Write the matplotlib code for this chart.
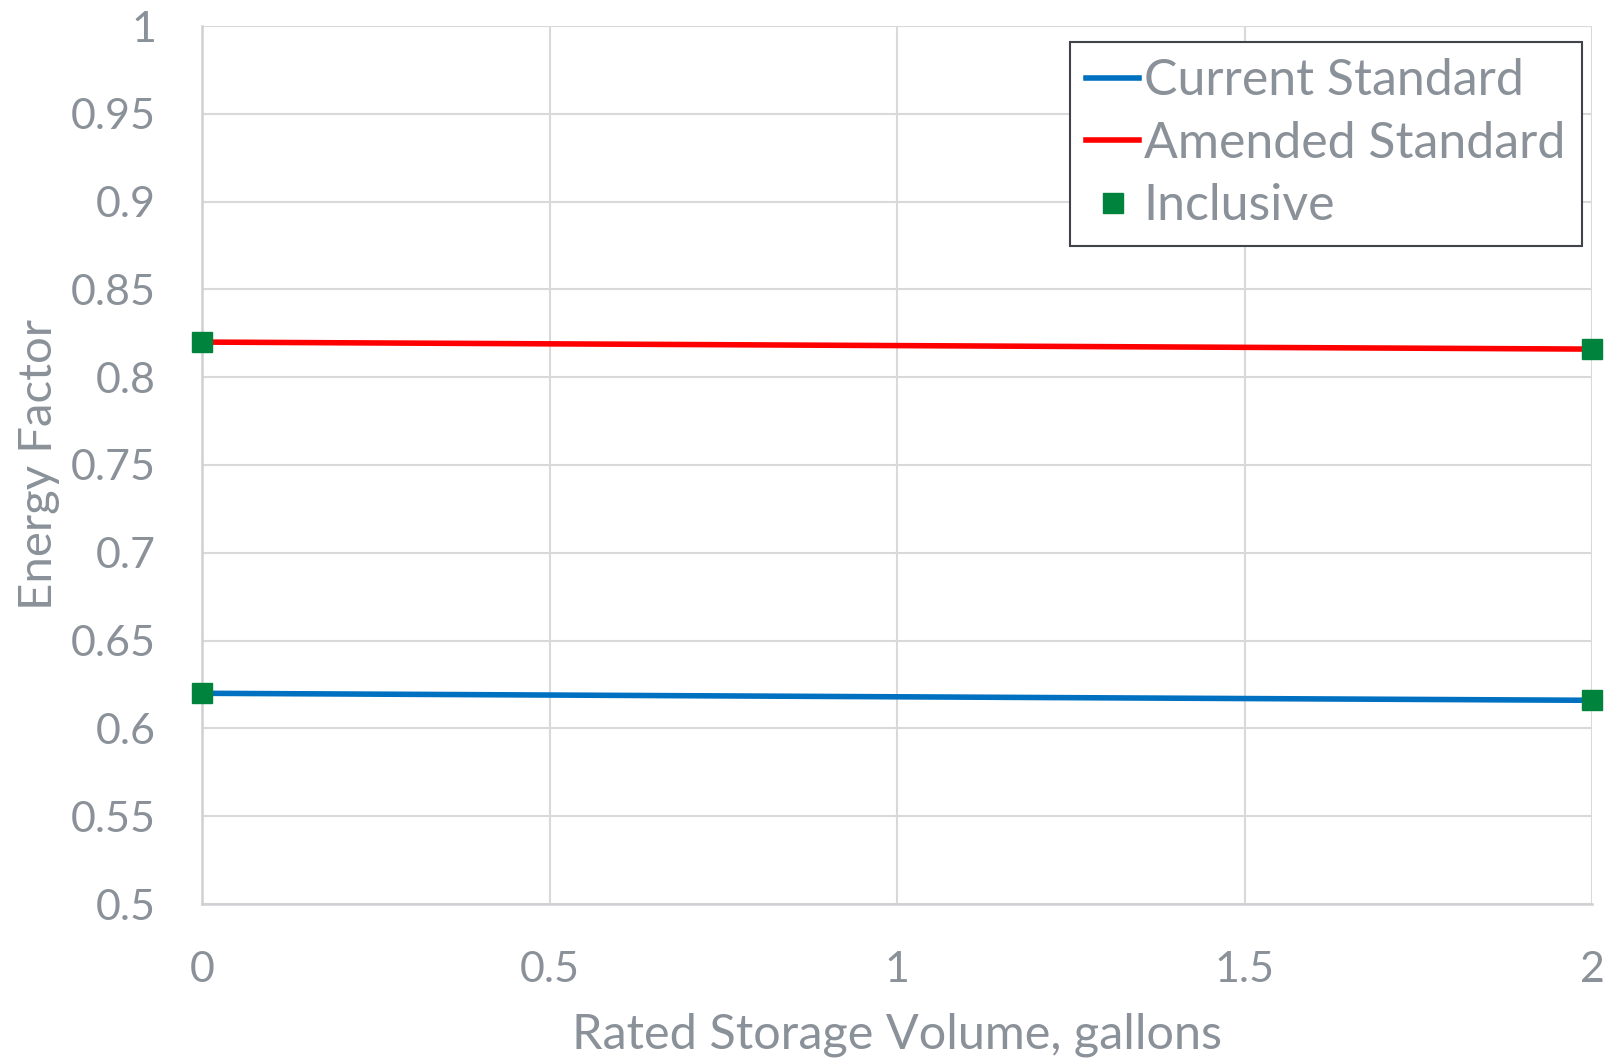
import matplotlib.pyplot as plt

# data
volume = [0, 2]
current_std = [0.62, 0.616]
amended_std = [0.82, 0.816]
inclusive_x = [0, 2, 0, 2]
inclusive_y = [0.62, 0.616, 0.82, 0.816]

x_ticks = [0, 0.5, 1, 1.5, 2]
x_labels = ["0", "0.5", "1", "1.5", "2"]
y_ticks = [0.5, 0.55, 0.6, 0.65, 0.7, 0.75, 0.8, 0.85, 0.9, 0.95, 1]
y_labels = ["0.5", "0.55", "0.6", "0.65", "0.7", "0.75", "0.8", "0.85", "0.9", "0.95", "1"]

txt = "#8A9199"
grid = "#D9D9D9"
plt.rcParams["font.family"] = ["Lato", "DejaVu Sans"]

fig = plt.figure(figsize=(16.16, 10.61), dpi=100)
ax = fig.add_axes([202 / 1616, 1 - 904 / 1061, (1592 - 202) / 1616, (904 - 26) / 1061])

ax.plot(volume, current_std, color="#0070C0", lw=4, label="Current Standard", zorder=3)
ax.plot(volume, amended_std, color="#FF0000", lw=4, label="Amended Standard", zorder=3)
ax.plot(inclusive_x, inclusive_y, ls="none", marker="s", ms=15, color="#00843D",
        label="Inclusive", zorder=4, clip_on=False)

ax.set_xlim(0, 2)
ax.set_ylim(0.5, 1)
ax.set_xticks(x_ticks, x_labels)
ax.set_yticks(y_ticks, y_labels)
ax.tick_params(length=0, labelsize=31, colors=txt)
ax.tick_params(axis="y", pad=33)
ax.tick_params(axis="x", pad=34)
ax.grid(True, color=grid, lw=1.5)
ax.set_axisbelow(True)
for s in ["top", "right"]:
    ax.spines[s].set_visible(False)
for s in ["left", "bottom"]:
    ax.spines[s].set_color("#D0D0D4")
    ax.spines[s].set_linewidth(1.8)

ax.set_xlabel("Rated Storage Volume, gallons", fontsize=35, color=txt, labelpad=17)
ax.set_ylabel("Energy Factor", fontsize=34, color=txt, labelpad=8)

leg = ax.legend(loc="upper right", bbox_to_anchor=(0.9926, 0.982), fontsize=36, labelcolor=txt,
                fancybox=False, framealpha=1, edgecolor="#40444A", handlelength=1.05,
                handletextpad=0.1, borderpad=0.33, labelspacing=0.33, borderaxespad=0)
leg.get_frame().set_linewidth(1.5)

fig.savefig("out.png", dpi=100)
